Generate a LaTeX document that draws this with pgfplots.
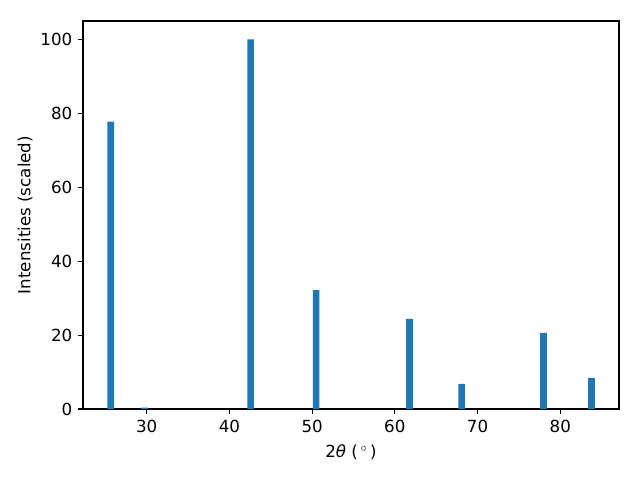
\documentclass[border=0pt]{standalone}
\usepackage{fontspec}
\setmainfont{DejaVu Sans}
\usepackage{pgfplots}
\pgfplotsset{compat=1.18}
\definecolor{mplblue}{HTML}{1F77B4}
\begin{document}
\fontsize{12pt}{14pt}\selectfont
\begin{tikzpicture}
\path (0,0) rectangle (460.8pt,345.6pt);
\begin{axis}[
  at={(59.76pt,51.12pt)}, anchor=south west,
  scale only axis, width=385.92pt, height=279.36pt,
  xmin=22.3, xmax=87.1, ymin=0, ymax=105,
  xtick={30,40,50,60,70,80}, ytick={0,20,40,60,80,100},
  tick align=outside, major tick length=3.5pt,
  tick style={black, line width=0.8pt},
  axis line style={line width=0.8pt},
  xtick pos=bottom, ytick pos=left,
  /pgf/number format/assume math mode=true,
  ticklabel style={font=\fontsize{12pt}{14pt}\selectfont},
  label style={font=\fontsize{12pt}{14pt}\selectfont},
  xlabel={2\textit{θ} (\,$^\circ$\,)},
  ylabel={Intensities (scaled)},
  ylabel style={yshift=-2.5pt},
  xlabel style={yshift=-1pt},
  ybar, bar width=0.8,
]
\addplot[fill=mplblue, draw=none] coordinates {
 (25.65,77.8) (29.73,0.4) (42.56,100) (50.48,32.2) (61.77,24.4) (68.07,6.8) (77.97,20.6) (83.77,8.4)
};
\end{axis}
\end{tikzpicture}
\end{document}
